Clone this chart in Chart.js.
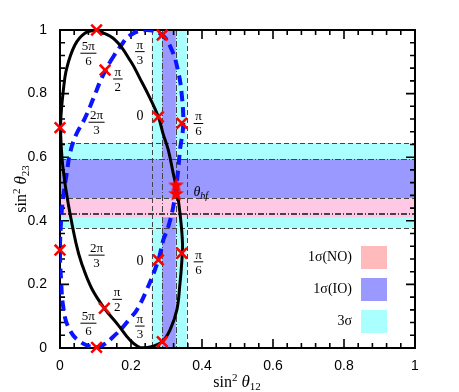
<!DOCTYPE html>
<html>
<head>
<meta charset="utf-8">
<script src="https://cdn.jsdelivr.net/npm/chart.js@4.4.1/dist/chart.umd.min.js"></script>
<style>
html, body { margin: 0; padding: 0; background: #fff; }
</style>
</head>
<body>
<canvas id="myChart" width="459" height="392"></canvas>
<script>
// ---- data ----
// solid black curve (closed)
const solidX = [0.103, 0.155, 0.200, 0.225, 0.249, 0.277, 0.290, 0.305, 0.319, 0.329, 0.338, 0.345, 0.343, 0.338, 0.329, 0.310, 0.288, 0.254, 0.225, 0.197, 0.164, 0.125, 0.089, 0.061, 0.045, 0.023, 0.009, 0.003, 0.002, 0.009, 0.019, 0.042, 0.070, 0.103];
const solidY = [1.000, 0.969, 0.900, 0.848, 0.796, 0.727, 0.675, 0.623, 0.549, 0.497, 0.424, 0.330, 0.270, 0.203, 0.119, 0.057, 0.020, 0.003, 0.002, 0.025, 0.072, 0.125, 0.188, 0.266, 0.330, 0.455, 0.560, 0.644, 0.712, 0.806, 0.880, 0.953, 0.990, 1.000];
// dashed blue curve (closed)
const dashedX = [0.141, 0.169, 0.200, 0.244, 0.288, 0.315, 0.333, 0.343, 0.347, 0.338, 0.333, 0.327, 0.319, 0.305, 0.291, 0.277, 0.244, 0.216, 0.197, 0.160, 0.108, 0.056, 0.023, 0.009, 0.003, 0.000, 0.002, 0.009, 0.019, 0.028, 0.045, 0.070, 0.094, 0.117, 0.141];
const dashedY = [0.900, 0.947, 0.985, 1.000, 0.984, 0.937, 0.869, 0.796, 0.700, 0.623, 0.560, 0.507, 0.444, 0.381, 0.340, 0.277, 0.182, 0.119, 0.093, 0.046, 0.004, 0.020, 0.067, 0.130, 0.214, 0.299, 0.380, 0.476, 0.549, 0.612, 0.670, 0.722, 0.785, 0.848, 0.900];
// red crosses
const crossX = [0.103, 0.127, 0.288, 0.000, 0.277, 0.343, 0.000, 0.277, 0.343, 0.125, 0.103, 0.288];
const crossY = [1.000, 0.874, 0.984, 0.693, 0.727, 0.707, 0.308, 0.277, 0.298, 0.125, 0.002, 0.020];
// best fit stars
const bestX = [0.327, 0.327];
const bestY = [0.513, 0.486];

// delta labels
const deltaText = ['5π/6', 'π/2', '2π/3', 'π/3', '0', 'π/6', '2π/3', 'π/2', '5π/6', '0', 'π/6', 'π/3'];
const deltaX = [0.080, 0.163, 0.103, 0.225, 0.225, 0.390, 0.103, 0.161, 0.080, 0.225, 0.390, 0.225];
const deltaY = [0.927, 0.846, 0.710, 0.932, 0.727, 0.706, 0.292, 0.153, 0.078, 0.271, 0.271, 0.069];

// bands
const band3sX = [0.258, 0.357];
const band1sIOX = [0.288, 0.326];
const band3sY = [0.376, 0.644];
const band1sIOY = [0.471, 0.593];
const band1sNOY = [0.411, 0.471];
const dashLinesX = [0.258, 0.357];
const dashDotLinesX = [0.288, 0.326];
const dashLinesY = [0.376, 0.471, 0.644];
const dashDotLinesY = [0.420, 0.426, 0.593];

const tickValues = [0, 0.2, 0.4, 0.6, 0.8, 1];
const legendNames = ['1σ(NO)', '1σ(IO)', '3σ'];

const cyan = '#aaffff';
const blue = '#9999ff';
const pink = '#ffc8e4';
const legendColors = ['#ffbbbb', blue, cyan];

// filled star for best fit
const star = document.createElement('canvas');
star.width = 17; star.height = 17;
(function () {
    const c = star.getContext('2d');
    c.fillStyle = '#ff0000';
    c.beginPath();
    for (let i = 0; i < 10; i++) {
        const r = i % 2 === 0 ? 8.3 : 3.4;
        const a = -Math.PI / 2 + i * Math.PI / 5;
        c.lineTo(8.5 + r * Math.cos(a), 9 + r * Math.sin(a));
    }
    c.closePath();
    c.fill();
})();

function pts(xs, ys) {
    return xs.map((v, i) => ({x: v, y: ys[i]}));
}

// draw text pieces one after another: [text, font, dy]
function drawRich(ctx, parts, x, y) {
    let w = 0;
    parts.forEach(p => { ctx.font = p[1]; w += ctx.measureText(p[0]).width; });
    let cx = x - w / 2;
    ctx.textAlign = 'left';
    ctx.textBaseline = 'alphabetic';
    parts.forEach(p => {
        ctx.font = p[1];
        ctx.fillText(p[0], cx, y + (p[2] || 0));
        cx += ctx.measureText(p[0]).width;
    });
}

function drawFrac(ctx, text, cx, cy) {
    ctx.fillStyle = '#000';
    ctx.textAlign = 'center';
    if (text.indexOf('/') < 0) {
        ctx.font = '14px "Liberation Serif"';
        ctx.textBaseline = 'middle';
        ctx.fillText(text, cx, cy);
        return;
    }
    const [num, den] = text.split('/');
    ctx.font = '13px "Liberation Serif"';
    const w = Math.max(ctx.measureText(num).width, ctx.measureText(den).width) + 3;
    ctx.fillRect(cx - w / 2, cy - 0.5, w, 1);
    ctx.textBaseline = 'alphabetic';
    ctx.fillText(num, cx, cy - 3);
    ctx.fillText(den, cx, cy + 12);
}

const framePlugin = {
    id: 'frame',
    beforeDatasetsDraw(chart) {
        const {ctx, chartArea: a, scales: {x, y}} = chart;
        ctx.save();
        const vband = (r, c) => {
            const x0 = x.getPixelForValue(r[0]), x1 = x.getPixelForValue(r[1]);
            ctx.fillStyle = c;
            ctx.fillRect(x0, a.top, x1 - x0, a.bottom - a.top);
        };
        const hband = (r, c) => {
            const y0 = y.getPixelForValue(r[1]), y1 = y.getPixelForValue(r[0]);
            ctx.fillStyle = c;
            ctx.fillRect(a.left, y0, a.right - a.left, y1 - y0);
        };
        hband(band3sY, cyan);
        vband(band3sX, cyan);
        hband(band1sIOY, blue);
        vband(band1sIOX, blue);
        hband(band1sNOY, pink);

        // band edges
        ctx.strokeStyle = '#444';
        ctx.lineWidth = 1;
        const vline = (v, dash) => {
            ctx.setLineDash(dash);
            const px = Math.round(x.getPixelForValue(v)) + 0.5;
            ctx.beginPath(); ctx.moveTo(px, a.top); ctx.lineTo(px, a.bottom); ctx.stroke();
        };
        const hline = (v, dash) => {
            ctx.setLineDash(dash);
            const py = Math.round(y.getPixelForValue(v)) + 0.5;
            ctx.beginPath(); ctx.moveTo(a.left, py); ctx.lineTo(a.right, py); ctx.stroke();
        };
        dashLinesX.forEach(v => vline(v, [5, 3]));
        dashDotLinesX.forEach(v => vline(v, [6, 2, 1, 2]));
        dashLinesY.forEach(v => hline(v, [5, 3]));
        dashDotLinesY.forEach(v => hline(v, [6, 2, 1, 2]));
        ctx.setLineDash([]);

        // frame and inward ticks
        ctx.strokeStyle = '#000';
        ctx.lineWidth = 2;
        ctx.strokeRect(a.left, a.top, a.right - a.left, a.bottom - a.top);
        ctx.lineWidth = 1.6;
        ctx.beginPath();
        for (let i = 0; i <= 25; i++) {
            const v = i * 0.04;
            const len = i % 5 === 0 ? 9 : 5;
            const px = x.getPixelForValue(v), py = y.getPixelForValue(v);
            ctx.moveTo(px, a.bottom); ctx.lineTo(px, a.bottom - len);
            ctx.moveTo(px, a.top); ctx.lineTo(px, a.top + len);
            ctx.moveTo(a.left, py); ctx.lineTo(a.left + len, py);
            ctx.moveTo(a.right, py); ctx.lineTo(a.right - len, py);
        }
        ctx.stroke();
        ctx.restore();
    },
    afterDatasetsDraw(chart) {
        const {ctx, scales: {x, y}} = chart;
        ctx.save();
        ctx.fillStyle = '#000';
        deltaText.forEach((t, i) => drawFrac(ctx, t, x.getPixelForValue(deltaX[i]), y.getPixelForValue(deltaY[i])));

        // theta_bf
        ctx.textAlign = 'left';
        ctx.textBaseline = 'alphabetic';
        ctx.font = 'italic 14px "Liberation Serif"';
        const tx = x.getPixelForValue(0.376), ty = y.getPixelForValue(0.49) + 4;
        ctx.fillText('θ', tx, ty);
        const tw = ctx.measureText('θ').width;
        ctx.font = 'italic 10px "Liberation Serif"';
        ctx.fillText('bf', tx + tw, ty + 3);

        // legend
        legendNames.forEach((name, i) => {
            const cy = 257 + i * 32;
            ctx.fillStyle = legendColors[i];
            ctx.fillRect(361, cy - 11, 26, 23);
            ctx.fillStyle = '#000';
            ctx.font = '14px "Liberation Serif"';
            ctx.textAlign = 'right';
            ctx.textBaseline = 'middle';
            ctx.fillText(name, 352, cy);
        });

        // axis titles
        const serif = '16px "Liberation Serif"';
        const small = '11px "Liberation Serif"';
        const ital = 'italic 17px "Liberation Serif"';
        drawRich(ctx, [['sin', serif], ['2', small, -6], [' ', serif], ['θ', ital], ['12', small, 3]], 237, 387);
        ctx.translate(26, 189);
        ctx.rotate(-Math.PI / 2);
        drawRich(ctx, [['sin', serif], ['2', small, -6], [' ', serif], ['θ', ital], ['23', small, 3]], 0, 0);
        ctx.restore();
    }
};

const tickFont = {family: '"Liberation Sans", Arial, sans-serif', size: 14};
const tickLabel = v => String(+(+v).toFixed(1));

const myChart = new Chart(document.getElementById('myChart'), {
    type: 'scatter',
    data: {
        datasets: [{
            label: 'best fit',
            data: pts(bestX, bestY),
            pointStyle: star,
            clip: false
        }, {
            label: 'delta points',
            data: pts(crossX, crossY),
            pointStyle: 'crossRot',
            radius: 7.5,
            borderWidth: 2.6,
            borderColor: '#ff0000',
            clip: false
        }, {
            label: 'solid',
            data: pts(solidX, solidY),
            showLine: true,
            borderColor: '#000',
            borderWidth: 3,
            tension: 0.4,
            pointRadius: 0
        }, {
            label: 'dashed',
            data: pts(dashedX, dashedY),
            showLine: true,
            borderColor: '#0a14ff',
            borderWidth: 4,
            borderDash: [10, 6],
            tension: 0.4,
            pointRadius: 0
        }]
    },
    options: {
        responsive: false,
        animation: false,
        layout: {padding: {left: 0, right: 44, top: 30, bottom: 0}},
        plugins: {legend: {display: false}, tooltip: {enabled: false}},
        scales: {
            x: {
                type: 'linear', min: 0, max: 1,
                grid: {display: false},
                border: {display: false},
                ticks: {font: tickFont, color: '#000', padding: 2, maxRotation: 0, callback: tickLabel},
                afterBuildTicks: s => { s.ticks = tickValues.map(v => ({value: v})); },
                afterFit: s => { s.height = 44; }
            },
            y: {
                type: 'linear', min: 0, max: 1,
                grid: {display: false},
                border: {display: false},
                ticks: {font: tickFont, color: '#000', padding: 5, callback: tickLabel},
                afterBuildTicks: s => { s.ticks = tickValues.map(v => ({value: v})); },
                afterFit: s => { s.width = 60; }
            }
        }
    },
    plugins: [framePlugin]
});
</script>
</body>
</html>
